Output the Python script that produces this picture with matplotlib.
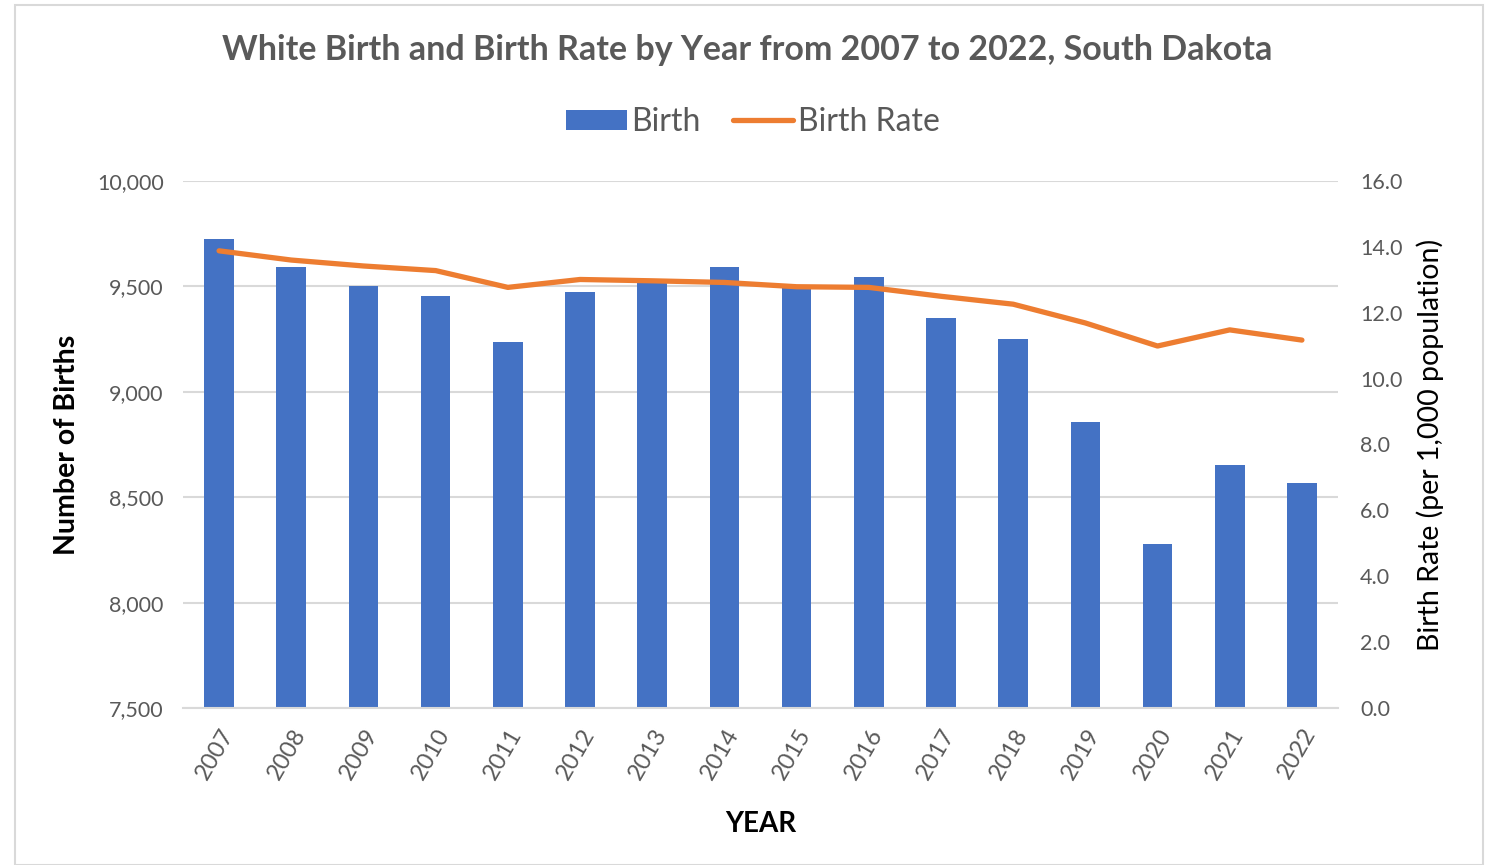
import matplotlib.pyplot as plt
import matplotlib.patches as mpatches
from matplotlib.ticker import FuncFormatter
import numpy as np

plt.rcParams['font.family'] = ['Lato', 'DejaVu Sans']

years = ['2007', '2008', '2009', '2010', '2011', '2012', '2013', '2014',
         '2015', '2016', '2017', '2018', '2019', '2020', '2021', '2022']
births = [9727, 9594, 9504, 9455, 9235, 9474, 9530, 9594,
          9500, 9546, 9351, 9250, 8858, 8278, 8653, 8567]
birth_rate = [13.88, 13.60, 13.42, 13.28, 12.77, 13.01, 12.97, 12.92,
              12.79, 12.77, 12.50, 12.26, 11.69, 10.99, 11.48, 11.17]

blue = '#4472C4'
orange = '#ED7D31'
gray = '#595959'

fig = plt.figure(figsize=(14.94, 8.65), dpi=100)
# outer border like the spreadsheet chart frame
fig.patches.append(mpatches.Rectangle((15 / 1494, 0), 1468 / 1494, 860 / 865,
                                      transform=fig.transFigure, fill=False,
                                      edgecolor='#D9D9D9', linewidth=1.5))

ax = fig.add_axes([183 / 1494, 1 - 708 / 865, 1155 / 1494, 527 / 865])
x = np.arange(len(years))
ax.bar(x, births, width=0.41, color=blue, zorder=2, label='Birth')
ax.set_ylim(7500, 10000)
ax.set_yticks(np.arange(7500, 10001, 500))
ax.yaxis.set_major_formatter(FuncFormatter(lambda v, p: f'{int(v):,}'))
ax.set_xlim(-0.5, len(years) - 0.5)
ax.set_xticks(x)
ax.set_xticklabels(years, rotation=60, ha='right', rotation_mode='anchor')
ax.grid(axis='y', color='#D9D9D9', linewidth=1.5, zorder=0)
ax.set_axisbelow(True)
for s in ['top', 'right', 'left']:
    ax.spines[s].set_visible(False)
ax.spines['bottom'].set_color('#D9D9D9')
ax.spines['bottom'].set_linewidth(1.5)
ax.tick_params(axis='both', length=0, labelsize=15.5, labelcolor=gray)
ax.tick_params(axis='x', labelsize=17, pad=12)
ax.tick_params(axis='y', pad=14)
ax.set_ylabel('Number of Births', fontsize=20.5, fontweight='bold', labelpad=12)
ax.set_xlabel('YEAR', fontsize=20, fontweight='bold', labelpad=20)

ax2 = ax.twinx()
ax2.plot(x, birth_rate, color=orange, linewidth=3.8, solid_capstyle='round',
         label='Birth Rate', zorder=3)
ax2.set_ylim(0, 16)
ax2.set_yticks(np.arange(0, 16.1, 2))
ax2.yaxis.set_major_formatter(FuncFormatter(lambda v, p: f'{v:.1f}'))
for s in ['top', 'right', 'left', 'bottom']:
    ax2.spines[s].set_visible(False)
ax2.tick_params(axis='y', length=0, labelsize=15.5, labelcolor=gray, pad=16)
ax2.set_ylabel('Birth Rate (per 1,000 population)', fontsize=20.5, labelpad=10)

fig.text(0.5, 1 - 50 / 865, 'White Birth and Birth Rate by Year from 2007 to 2022, South Dakota',
         ha='center', va='center', fontsize=24.5, fontweight='bold', color=gray)

h1, l1 = ax.get_legend_handles_labels()
h2, l2 = ax2.get_legend_handles_labels()
fig.legend(h1 + h2, l1 + l2, loc='center', bbox_to_anchor=(753 / 1494, 1 - 122 / 865),
           ncol=2, frameon=False, fontsize=23, labelcolor=gray,
           handlelength=1.9, handleheight=0.6, handletextpad=0.15, columnspacing=1.0)

fig.savefig('out.png', dpi=100)
